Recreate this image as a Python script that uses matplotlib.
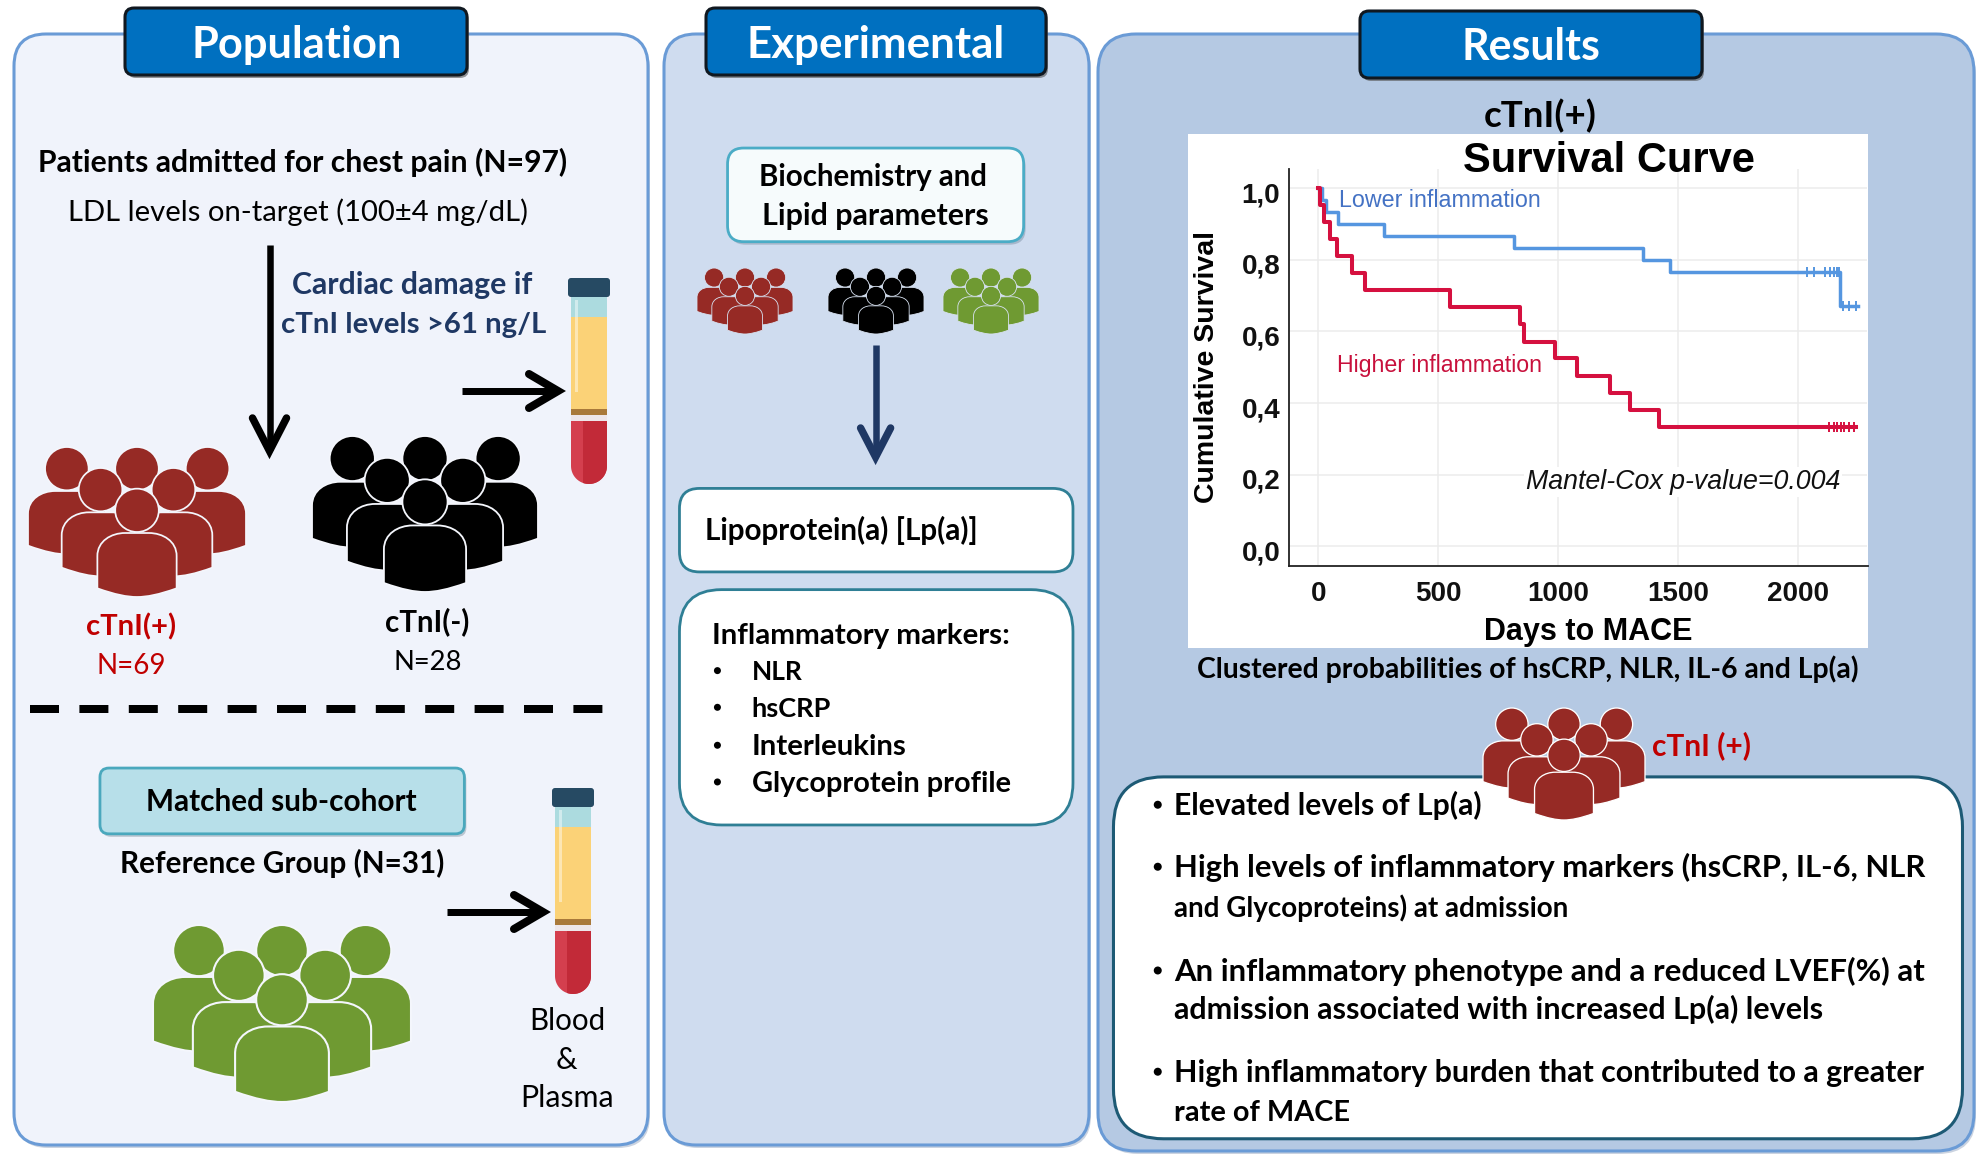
import numpy as np
import matplotlib
matplotlib.use("Agg")
import matplotlib.pyplot as plt
from matplotlib.patches import FancyBboxPatch, Rectangle, Ellipse, PathPatch
from matplotlib.path import Path
from matplotlib.transforms import ScaledTranslation

# ---------- chart data ----------
blue_days = [0, 15, 33, 80, 272, 815, 1354, 1467, 2178, 2253]
blue_surv = [1.0, .966, .934, .90, .867, .833, .80, .766, .672, .672]
blue_cens_days_a = [2039, 2067, 2114, 2133, 2150, 2165, 2172]
blue_cens_days_b = [2190, 2215, 2245]
red_days = [0, 5, 24, 50, 78, 140, 195, 549, 843, 856, 989, 1078, 1218, 1300, 1421, 2244]
red_surv = [1.0, .952, .905, .857, .81, .762, .714, .668, .62, .571, .525, .476, .428, .381, .334, .334]
red_cens_days = [2130, 2150, 2165, 2180, 2195, 2215, 2235]
x_ticks = [0, 500, 1000, 1500, 2000]
y_ticks = [0.0, 0.2, 0.4, 0.6, 0.8, 1.0]
y_tick_labels = ["0,0", "0,2", "0,4", "0,6", "0,8", "1,0"]

W, H = 1984, 1172
S = 1984 / 1568
FONT = "Lato"
ARIAL = "Liberation Sans"
NAVY = "#1f3864"
DARKRED = "#c00000"
ICON_RED = "#962a25"
ICON_GREEN = "#6f9a32"

fig = plt.figure(figsize=(W / 100, H / 100), dpi=100, facecolor="white")
bg = fig.add_axes([0, 0, 1, 1], zorder=0)
bg.set_xlim(0, W)
bg.set_ylim(H, 0)
bg.axis("off")
over = fig.add_axes([0, 0, 1, 1], zorder=3)
over.set_xlim(0, W)
over.set_ylim(H, 0)
over.axis("off")
renderer = fig.canvas.get_renderer()


def box(x0, y0, x1, y1, fc, ec, r=20, lw=2.0, z=1, shadow=None):
    if shadow:
        bg.add_patch(FancyBboxPatch((x0 + 2, y0 + 3), x1 - x0, y1 - y0,
                                    boxstyle=f"round,pad=0,rounding_size={r}",
                                    fc=shadow, ec="none", alpha=.6, zorder=z))
    bg.add_patch(FancyBboxPatch((x0, y0), x1 - x0, y1 - y0,
                                boxstyle=f"round,pad=0,rounding_size={r}",
                                fc=fc, ec=ec, lw=lw, zorder=z))


def fit(s, x0, x1, yc, weight="normal", color="black", family=FONT, style="normal", z=10, on=None, backing=False):
    """Text in shown-image coordinates, sized to span x0..x1."""
    on = on or bg
    t = on.text(x0 * S, yc * S, s, fontfamily=family, fontweight=weight, fontstyle=style,
                color=color, fontsize=20, ha="left", va="baseline", zorder=z)
    w = t.get_window_extent(renderer).width
    fs = 20 * (x1 - x0) * S / w
    t.set_fontsize(fs)
    t.set_y(yc * S + 0.34 * fs / 0.72)
    if backing:
        t.set_bbox(dict(fc="white", ec="none", pad=1.5))
    return t


def body(cx, w, top, bot, X, Y, color, edge, lw, z):
    r = (bot - top) * .36
    bl = bot - 26
    verts = [(cx - w, bl), (cx - w, top + r),
             (cx - w, top + r * .35), (cx - w * .65, top), (cx - w * .3, top),
             (cx + w * .3, top),
             (cx + w * .65, top), (cx + w, top + r * .35), (cx + w, top + r),
             (cx + w, bl),
             (cx + w * .55, bot - 7), (cx + w * .25, bot), (cx, bot),
             (cx - w * .25, bot), (cx - w * .55, bot - 7), (cx - w, bl),
             (cx - w, bl)]
    codes = [Path.MOVETO, Path.LINETO,
             Path.CURVE4, Path.CURVE4, Path.CURVE4,
             Path.LINETO,
             Path.CURVE4, Path.CURVE4, Path.CURVE4,
             Path.LINETO,
             Path.CURVE4, Path.CURVE4, Path.CURVE4,
             Path.CURVE4, Path.CURVE4, Path.CURVE4,
             Path.CLOSEPOLY]
    pts = [(X(a), Y(b)) for a, b in verts]
    bg.add_patch(PathPatch(Path(pts, codes), fc=color, ec=edge, lw=lw, zorder=z))


def people(x0, y0, x1, y1, color, edge="#f4f6fc", z=5):
    """Group-of-people pictogram spanning the given pixel box."""
    sx, sy = (x1 - x0) / 550, (y1 - y0) / 450
    X = lambda a: x0 + (a + 275) * sx
    Y = lambda b: y0 + b * sy
    lw = max(.6, 3.2 * sx)

    def head(a, b, ra=55, rb=65):
        bg.add_patch(Ellipse((X(a), Y(b)), 2 * ra * sx, 2 * rb * sy, fc=color, ec=edge, lw=lw, zorder=z))
    for a in (-177, 0, 178):
        head(a, 65)
    body(-177, 98, 132, 322, X, Y, color, edge, lw, z)
    body(177, 98, 132, 322, X, Y, color, edge, lw, z)
    head(-92, 128)
    head(92, 128)
    body(-92, 98, 196, 388, X, Y, color, edge, lw, z)
    body(92, 98, 196, 388, X, Y, color, edge, lw, z)
    head(0, 190)
    body(0, 100, 258, 450, X, Y, color, edge, lw, z)


def tube(cx, t):
    z = 5
    bg.add_patch(Rectangle((cx - 18, t + 19), 36, 20, fc="#acdbdf", ec="none", zorder=z))
    bg.add_patch(Rectangle((cx - 18, t + 39), 36, 92, fc="#fbd277", ec="none", zorder=z))
    bg.add_patch(Rectangle((cx - 18, t + 131), 36, 6, fc="#a9793a", ec="none", zorder=z))
    bg.add_patch(Rectangle((cx - 18, t + 137), 36, 6, fc="#ede6ea", ec="none", zorder=z))
    ang = np.linspace(np.pi, 0, 30)
    pts = [(cx - 18, t + 143)] + [(cx + 18 * np.cos(a), t + 188 + 18 * np.sin(a)) for a in ang] + [(cx + 18, t + 143)]
    red = PathPatch(Path(pts + [pts[0]], closed=True), fc="#d43f4e", ec="none", zorder=z)
    bg.add_patch(red)
    dark = Rectangle((cx - 6, t + 143), 24, 64, fc="#c22a38", ec="none", zorder=z + .1)
    bg.add_patch(dark)
    dark.set_clip_path(red)
    bg.add_patch(Rectangle((cx - 14, t + 22), 3, 92, fc="white", ec="none", alpha=.45, zorder=z + .1))
    bg.add_patch(FancyBboxPatch((cx - 21, t), 42, 19, boxstyle="round,pad=0,rounding_size=3",
                                fc="#264a63", ec="none", zorder=z + .2))


def arrow(x0, y0, x1, y1, color="black", lw=6.5, hl=30, hw=17):
    lw_pt = lw * .72
    d = np.array([x1 - x0, y1 - y0], float)
    d /= np.hypot(*d)
    n = np.array([-d[1], d[0]])
    tip = np.array([x1, y1], float)
    bg.plot([x0, x1 - d[0] * 6], [y0, y1 - d[1] * 6], color=color, lw=lw_pt, solid_capstyle="butt", zorder=6)
    a = tip - d * hl + n * hw
    b = tip - d * hl - n * hw
    bg.plot([a[0], tip[0] - d[0] * 5, b[0]], [a[1], tip[1] - d[1] * 5, b[1]], color=color, lw=lw_pt * 1.15,
            solid_capstyle="round", solid_joinstyle="miter", zorder=6)


# ---------- panels ----------
box(14, 34, 648, 1145, "#f0f3fb", "#6a9bd6", r=32, lw=2.2, shadow="#a9b7cc")
box(664, 34, 1089, 1145, "#cfdcef", "#6a9bd6", r=32, lw=2.2, shadow="#a9b7cc")
box(1098, 34, 1974, 1151, "#b5c9e3", "#6a9bd6", r=38, lw=2.2, shadow="#a9b7cc")

for x0, x1, y0, y1 in [(125, 467, 8, 75), (706, 1046, 8, 75), (1360, 1702, 11, 78)]:
    box(x0, y0, x1, y1, "#0070c0", "#101820", r=9, lw=2.2, z=3, shadow="#555555")
fit("Population", 151, 317, 34, "bold", "white")
fit("Experimental", 590, 794, 34, "bold", "white")
fit("Results", 1155, 1265, 36, "bold", "white")

# ---------- population panel ----------
fit("Patients admitted for chest pain (N=97)", 30, 448, 128, "bold")
fit("LDL levels on-target (100±4 mg/dL)", 54, 417, 167)
fit("Cardiac damage if", 231, 421, 224, "bold", NAVY)
fit("cTnI levels >61 ng/L", 222, 431, 255, "bold", NAVY)
arrow(269.5, 245, 269.5, 456, lw=6.5, hl=38, hw=17)
arrow(462, 391, 563, 391, lw=7, hl=34, hw=17)
arrow(447, 912, 548, 912, lw=7, hl=34, hw=17)
tube(589, 278)
tube(573, 788)
people(28, 447, 246, 597, ICON_RED)
people(312, 436, 538, 592, "black")
fit("cTnI(+)", 68, 139, 494, "bold", DARKRED)
fit("N=69", 76, 131, 525, color=DARKRED)
fit("cTnI(-)", 304, 371, 491, "bold")
fit("N=28", 311, 365, 522)
bg.plot([30, 603], [709, 709], color="black", lw=8 * .72, dashes=(29 / 8, 20.4 / 8),
        dash_capstyle="butt", zorder=4)
box(79 * S, 607 * S, 367 * S, 659 * S, "#b7dfe9", "#4aa8bd", r=9, lw=2, z=3, shadow="#9aa9b5")
fit("Matched sub-cohort", 115, 329, 633, "bold")
fit("Reference Group (N=31)", 95, 351, 682, "bold")
people(153, 925, 411, 1102, ICON_GREEN)
fit("Blood", 418, 478, 806)
fit("&", 439, 456, 837)
fit("Plasma", 411, 485, 867)

# ---------- experimental panel ----------
box(575 * S, 117 * S, 809 * S, 191 * S, "#f6fbfc", "#4bacc6", r=16, lw=2, z=3, shadow="#8d9fb3")
fit("Biochemistry and", 600, 781, 139, "bold")
fit("Lipid parameters", 602, 781, 170, "bold")
people(697, 268, 793, 334, ICON_RED, edge="#d8e2f1")
people(828, 268, 924, 334, "black", edge="#d8e2f1")
people(943, 268, 1039, 334, ICON_GREEN, edge="#d8e2f1")
arrow(875.6, 345, 875.6, 462, color=NAVY, lw=6.5, hl=34, hw=15)
box(537 * S, 386 * S, 848 * S, 452 * S, "white", "#2f7f95", r=20, lw=2, z=3)
fit("Lipoprotein(a) [Lp(a)]", 557, 773, 419, "bold")
box(537 * S, 466 * S, 848 * S, 652 * S, "white", "#2f7f95", r=42, lw=2, z=3)
fit("Inflammatory markers:", 563, 798, 501, "bold")
for s, x1, y in [("NLR", 634, 530), ("hsCRP", 657, 559), ("Interleukins", 717, 589), ("Glycoprotein profile", 798, 618)]:
    fit(s, 594, x1, y, "bold")
    bg.add_patch(Ellipse((567 * S, y * S), 7, 7, fc="black", ec="none", zorder=10))

# ---------- results panel ----------
fit("cTnI(+)", 1173, 1262, 91, "bold")
bg.add_patch(Rectangle((1188, 134), 680, 514, fc="white", ec="none", zorder=2))
fit("Clustered probabilities of hsCRP, NLR, IL-6 and Lp(a)", 946, 1470, 528, "bold")
box(880 * S, 614 * S, 1551 * S, 900 * S, "white", "#1d5a75", r=50, lw=2.2, z=3)
people(1483, 708, 1645, 820, ICON_RED, edge="white", z=5)
fit("cTnI (+)", 1306, 1384, 589, "bold", DARKRED)
for s, x1, y, dot in [
    ("Elevated levels of Lp(a)", 1171, 636, True),
    ("High levels of inflammatory markers (hsCRP, IL-6, NLR", 1521, 685, True),
    ("and Glycoproteins) at admission", 1240, 717, False),
    ("An inflammatory phenotype and a reduced LVEF(%) at", 1520, 767, True),
    ("admission associated with increased Lp(a) levels", 1440, 797, False),
    ("High inflammatory burden that contributed to a greater", 1520, 847, True),
    ("rate of MACE", 1067, 878, False),
]:
    fit(s, 928, x1, y, "bold")
    if dot:
        bg.add_patch(Ellipse((915 * S, y * S), 8, 8, fc="black", ec="none", zorder=10))

# ---------- survival chart ----------
AL, AR, AT, AB = 1288.5, 1867.5, 169, 566
ax = fig.add_axes([AL / W, 1 - AB / H, (AR - AL) / W, (AB - AT) / H], zorder=2)
ax.patch.set_alpha(0)
ax.set_xlim(-124.7, 2291)
ax.set_ylim(-0.055, 1.053)
ax.grid(True, color="#ececec", lw=1.1)
ax.set_axisbelow(True)
for s in ("top", "right"):
    ax.spines[s].set_visible(False)
for s in ("left", "bottom"):
    ax.spines[s].set_color("#222222")
    ax.spines[s].set_linewidth(1.3)
ax.step(blue_days, blue_surv, where="post", color="#5596e0", lw=2.5, zorder=3)
ax.step(red_days, red_surv, where="post", color="#d5103f", lw=2.9, zorder=4)
ax.plot(blue_cens_days_a, [blue_surv[7]] * len(blue_cens_days_a), "|", color="#5596e0", ms=7, mew=1.4, zorder=3)
ax.plot(blue_cens_days_b, [blue_surv[8]] * len(blue_cens_days_b), "|", color="#5596e0", ms=7, mew=1.4, zorder=3)
ax.plot(red_cens_days, [red_surv[-1]] * len(red_cens_days), "|", color="#d5103f", ms=7, mew=1.4, zorder=4)
ax.set_xticks(x_ticks)
ax.set_yticks(y_ticks)
ax.set_yticklabels(y_tick_labels)
ax.tick_params(length=0, pad=6)
ax.tick_params(axis="x", pad=11)
for lab in ax.get_xticklabels() + ax.get_yticklabels():
    lab.set_fontfamily(ARIAL)
    lab.set_fontweight("bold")
    lab.set_fontsize(20)
    lab.set_color("#111111")
shift_down = ScaledTranslation(0, -3 / 72, fig.dpi_scale_trans)
for lab in ax.get_yticklabels():
    lab.set_transform(lab.get_transform() + shift_down)

over.text(1609, 161, "Survival Curve", fontfamily=ARIAL, fontweight="bold", fontsize=30, ha="center", va="center", zorder=8)
over.text(1207, 367, "Cumulative Survival", fontfamily=ARIAL, fontweight="bold", fontsize=20.5, rotation=90,
          ha="center", va="center", zorder=8)
over.text(1588, 632, "Days to MACE", fontfamily=ARIAL, fontweight="bold", fontsize=22, ha="center", va="center", zorder=8)
fit("Lower inflammation", 1058, 1217, 157, color="#4472c4", family=ARIAL, on=over)
fit("Higher inflammation", 1057, 1219, 288, color="#c8103c", family=ARIAL, on=over)
fit("Mantel-Cox p-value=0.004", 1206, 1454, 379, color="#111111", family=ARIAL, style="italic", on=over, backing=True)

fig.savefig("out.png", dpi=100, facecolor="white")
